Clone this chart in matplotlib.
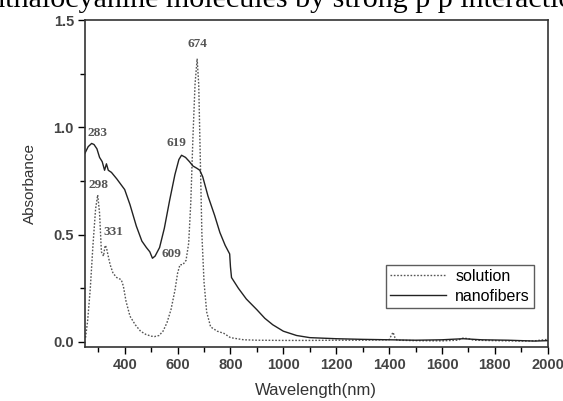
import matplotlib
matplotlib.use("Agg")
import matplotlib.pyplot as plt
from matplotlib.ticker import MultipleLocator

# absorbance spectra
SOL_WL = [252, 260, 270, 280, 290, 298, 305, 312, 320, 326, 331, 336, 345,
          356, 370, 387, 395, 405, 420, 440, 460, 480, 500, 513, 530, 545,
          560, 575, 590, 600, 609, 620, 632, 642, 650, 658, 666, 674, 680,
          686, 692, 700, 710, 725, 750, 775, 800, 850, 900, 1000, 1100, 1200,
          1300, 1400, 1408, 1415, 1422, 1430, 1500, 1600, 1660, 1680, 1700,
          1720, 1800, 1900, 1950, 2000]
SOL_ABS = [0.02, 0.10, 0.25, 0.45, 0.62, 0.685, 0.60, 0.42, 0.40, 0.45, 0.44,
           0.41, 0.36, 0.32, 0.30, 0.29, 0.26, 0.19, 0.12, 0.08, 0.05, 0.035,
           0.027, 0.025, 0.03, 0.05, 0.09, 0.15, 0.24, 0.32, 0.36, 0.36, 0.38,
           0.46, 0.65, 0.95, 1.2, 1.32, 1.2, 0.85, 0.5, 0.28, 0.14, 0.07,
           0.05, 0.04, 0.02, 0.01, 0.008, 0.007, 0.007, 0.008, 0.008, 0.01,
           0.03, 0.045, 0.02, 0.008, 0.006, 0.005, 0.008, 0.018, 0.015, 0.008,
           0.006, 0.004, 0.005, 0.012]

FIB_WL = [250, 262, 275, 284, 295, 305, 315, 324, 331, 338, 350, 370, 400,
          420, 444, 465, 482, 495, 505, 515, 532, 550, 570, 590, 605, 615,
          630, 645, 658, 672, 684, 695, 715, 740, 760, 780, 797, 800, 804,
          830, 860, 900, 930, 960, 1000, 1050, 1100, 1200, 1300, 1400, 1500,
          1600, 1680, 1750, 1850, 1950, 2000]
FIB_ABS = [0.88, 0.91, 0.925, 0.92, 0.90, 0.86, 0.84, 0.80, 0.83, 0.80, 0.79,
           0.76, 0.71, 0.64, 0.54, 0.47, 0.44, 0.42, 0.39, 0.40, 0.44, 0.53,
           0.66, 0.78, 0.85, 0.87, 0.86, 0.84, 0.82, 0.81, 0.80, 0.77, 0.68,
           0.59, 0.51, 0.45, 0.41, 0.35, 0.30, 0.25, 0.20, 0.15, 0.11, 0.08,
           0.05, 0.03, 0.02, 0.015, 0.012, 0.01, 0.008, 0.01, 0.015, 0.01,
           0.008, 0.004, 0.006]

PEAK_LABELS = ["283", "298", "331", "619", "609", "674"]
PEAK_X = [298, 302, 357, 597, 577, 677]
PEAK_Y = [0.975, 0.73, 0.51, 0.925, 0.41, 1.39]

plt.rcParams["font.family"] = ["Liberation Sans", "DejaVu Sans"]

fig = plt.figure(figsize=(5.63, 4.01), dpi=100)
ax = fig.add_axes([0.151, 0.135, 0.822, 0.815])

# cropped caption line from the page above the chart
fig.text(-0.044, 1 - 7 / 401, "phthalocyanine molecules by strong p p interaction",
         family="Liberation Serif", fontsize=21.6, va="baseline", ha="left",
         color="black")

ax.plot(SOL_WL, SOL_ABS, color="#555555", lw=1.0, linestyle=(0, (1.2, 1.2)),
        label="solution")
ax.plot(FIB_WL, FIB_ABS, color="#222222", lw=1.0, label="nanofibers")

for lab, x, y in zip(PEAK_LABELS, PEAK_X, PEAK_Y):
    ax.text(x, y, lab, ha="center", va="center", family="Liberation Serif",
            fontweight="bold", fontsize=9.5, color="#555555")

ax.set_xlim(250, 2000)
ax.set_ylim(-0.023, 1.5)
ax.xaxis.set_major_locator(MultipleLocator(200))
ax.xaxis.set_minor_locator(MultipleLocator(100))
ax.yaxis.set_major_locator(MultipleLocator(0.5))
ax.yaxis.set_minor_locator(MultipleLocator(0.25))
ax.set_xticks(range(400, 2001, 200))
ax.yaxis.set_major_formatter(plt.FormatStrFormatter("%.1f"))

ax.tick_params(which="major", direction="out", length=5, width=1,
               labelsize=10.5, labelcolor="#444444", pad=3)
ax.tick_params(which="minor", direction="out", length=3.5, width=1)
for lab in ax.get_xticklabels() + ax.get_yticklabels():
    lab.set_fontweight("bold")
for s in ax.spines.values():
    s.set_linewidth(1.2)
    s.set_color("#333333")

ax.set_xlabel("Wavelength(nm)", fontsize=12, color="#333333", labelpad=8)
ax.set_ylabel("Absorbance", fontsize=11, color="#333333", labelpad=12)

leg = ax.legend(loc="lower right", bbox_to_anchor=(0.97, 0.12), fontsize=11.5,
                frameon=True, fancybox=False, handlelength=3.5,
                borderpad=0.25, labelspacing=0.3, handletextpad=0.6,
                borderaxespad=0)
leg.get_frame().set_edgecolor("#333333")
leg.get_frame().set_linewidth(1.0)

fig.savefig("out.png", dpi=100)
